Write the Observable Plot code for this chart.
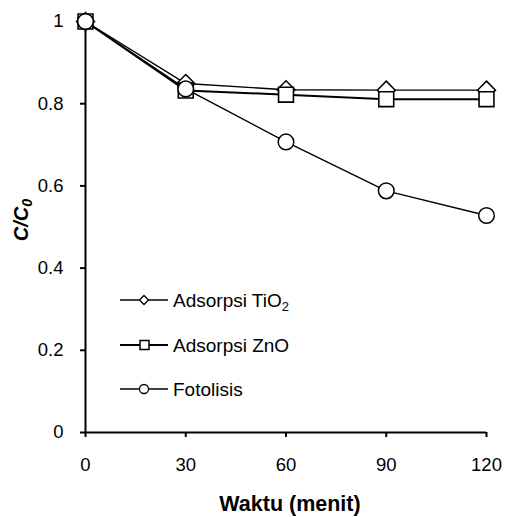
<!DOCTYPE html>
<html>
<head>
<meta charset="utf-8">
<script src="https://cdn.jsdelivr.net/npm/d3@7"></script>
<script src="https://cdn.jsdelivr.net/npm/@observablehq/plot@0.6"></script>
<style>
  html, body { margin: 0; padding: 0; background: #fff; }
  #chart { width: 505px; height: 517px; }
</style>
</head>
<body>
<div id="chart"></div>
<script>
const times = [0, 30, 60, 90, 120];
const tio2 = [1, 0.849, 0.834, 0.833, 0.833];
const zno = [1, 0.832, 0.822, 0.811, 0.811];
const fotolisis = [1, 0.836, 0.707, 0.588, 0.528];
const xTicks = [0, 30, 60, 90, 120];
const yTicks = [0, 0.2, 0.4, 0.6, 0.8, 1];
const seriesNames = ["Adsorpsi TiO2", "Adsorpsi ZnO", "Fotolisis"];

const rows = (vals) => times.map((t, i) => ({t, v: vals[i]}));
const dTi = rows(tio2), dZn = rows(zno), dFo = rows(fotolisis);

const font = "'Liberation Sans', Arial, sans-serif";

const plot = Plot.plot({
  width: 505,
  height: 517,
  marginLeft: 85,
  marginRight: 19,
  marginTop: 21,
  marginBottom: 85,
  style: {fontFamily: font, fontSize: "18px", color: "#000", background: "#fff"},
  x: {domain: [0, 120]},
  y: {domain: [0, 1]},
  marks: [
    Plot.axisX({ticks: xTicks, tickSize: 5, tickPadding: 20, strokeWidth: 2, tickFormat: d => String(d), label: null, fontSize: 18.5}),
    Plot.axisY({ticks: yTicks, tickSize: 5, tickPadding: 17, strokeWidth: 2, tickFormat: d => String(d), label: null, fontSize: 18.5}),
    Plot.ruleX([0], {stroke: "#000", strokeWidth: 2}),
    Plot.ruleY([0], {stroke: "#000", strokeWidth: 2}),
    Plot.line(dTi, {x: "t", y: "v", stroke: "#000", strokeWidth: 1.4}),
    Plot.dot(dTi, {x: "t", y: "v", symbol: "diamond2", r: 8.1, fill: "#fff", stroke: "#000", strokeWidth: 1.5}),
    Plot.line(dZn, {x: "t", y: "v", stroke: "#000", strokeWidth: 2}),
    Plot.dot(dZn, {x: "t", y: "v", symbol: "square", r: 8.4, fill: "#fff", stroke: "#000", strokeWidth: 1.6}),
    Plot.line(dFo, {x: "t", y: "v", stroke: "#000", strokeWidth: 1.4}),
    Plot.dot(dFo, {x: "t", y: "v", symbol: "circle", r: 7.8, fill: "#fff", stroke: "#000", strokeWidth: 1.5})
  ]
});

document.getElementById("chart").appendChild(plot);

const svg = d3.select(plot);
svg.selectAll("text")
  .style("font-size", "18.5px").style("font-family", font).attr("fill", "#000");

// Axis titles
svg.append("text")
  .attr("x", 290).attr("y", 511)
  .attr("text-anchor", "middle")
  .style("font-family", font).style("font-size", "21.5px").style("font-weight", "bold")
  .attr("fill", "#000")
  .text("Waktu (menit)");

const yt = svg.append("text")
  .attr("transform", "translate(28,220) rotate(-90)")
  .attr("text-anchor", "middle")
  .style("font-family", font).style("font-size", "20px").style("font-weight", "bold").style("font-style", "italic")
  .attr("fill", "#000");
yt.append("tspan").text("C/C");
yt.append("tspan").attr("dy", 4).style("font-size", "14px").text("0");

// Legend
const leg = svg.append("g");
const legRows = [
  {name: seriesNames[0], sym: "diamond", w: 1.4, y: 300},
  {name: seriesNames[1], sym: "square", w: 2.2, y: 345},
  {name: seriesNames[2], sym: "circle", w: 1.4, y: 389}
];
legRows.forEach(r => {
  const g = leg.append("g").attr("transform", `translate(0,${r.y})`);
  g.append("line").attr("x1", 120).attr("x2", 168).attr("y1", 0).attr("y2", 0)
    .attr("stroke", "#000").attr("stroke-width", r.w);
  if (r.sym === "diamond") {
    g.append("path").attr("d", "M144,-4.5L148.5,0L144,4.5L139.5,0Z").attr("fill", "#fff").attr("stroke", "#000").attr("stroke-width", 1.3);
  } else if (r.sym === "square") {
    g.append("rect").attr("x", 140).attr("y", -4.5).attr("width", 9).attr("height", 9).attr("fill", "#fff").attr("stroke", "#000").attr("stroke-width", 1.5);
  } else {
    g.append("circle").attr("cx", 144).attr("cy", 0).attr("r", 4.5).attr("fill", "#fff").attr("stroke", "#000").attr("stroke-width", 1.3);
  }
  const t = g.append("text").attr("x", 173).attr("y", 6.5)
    .attr("text-anchor", "start")
    .style("font-family", font).style("font-size", "19px").attr("fill", "#000");
  if (r.name === "Adsorpsi TiO2") {
    t.append("tspan").text("Adsorpsi TiO");
    t.append("tspan").attr("dy", 4).style("font-size", "13px").text("2");
  } else {
    t.text(r.name);
  }
});
</script>
</body>
</html>
